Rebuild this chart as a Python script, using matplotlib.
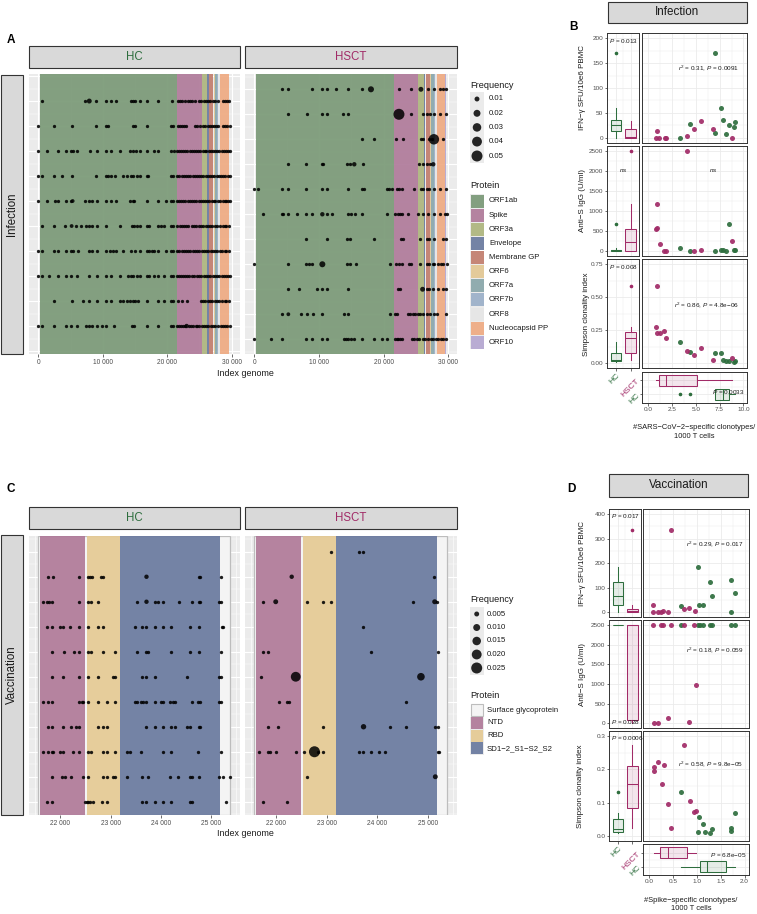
import numpy as np
import matplotlib
matplotlib.use("Agg")
import matplotlib.pyplot as plt
from matplotlib.patches import Rectangle
from matplotlib.colors import to_rgba

plt.rcParams['font.family'] = ['Liberation Sans', 'DejaVu Sans']
plt.rcParams['mathtext.fontset'] = 'custom'
plt.rcParams['mathtext.rm'] = 'Liberation Sans'
plt.rcParams['mathtext.it'] = 'Liberation Sans:italic'
plt.rcParams['mathtext.bf'] = 'Liberation Sans:bold'

# ======================= DATA =======================
GROUPS = ["HC", "HSCT"]
HC_COL = "#2E6E3E"
HS_COL = "#A12B67"

# ---- Panel A : genome proteins ----
PROT_A_NAMES = ["ORF1ab", "Spike", "ORF3a", "Envelope", "Membrane GP", "ORF6",
                "ORF7a", "ORF7b", "ORF8", "Nucleocapsid PP", "ORF10"]
PROT_A_START = [266, 21563, 25393, 26245, 26523, 27202, 27394, 27756, 27894, 28274, 29558]
PROT_A_END = [21555, 25384, 26220, 26472, 27191, 27387, 27759, 27887, 28259, 29533, 29674]
PROT_A_COLORS = ["#7B9A78", "#B07B9B", "#AEB67F", "#6B7BA0", "#C27E6E", "#E3C894",
                 "#8AA8AB", "#9CB0C9", "#E6E6E6", "#EFAB83", "#B6A7D2"]
FREQ_A_LEVELS = [0.01, 0.02, 0.03, 0.04, 0.05]
FREQ_A_LABELS = ["0.01", "0.02", "0.03", "0.04", "0.05"]

# epitope positions (kb) per donor row, HC infection
A_HC_ROWS_KB = [
    [0.52, 7.24, 8.95, 10.50, 11.28, 12.05, 14.38, 14.74, 15.0, 15.78, 16.81, 18.62, 20.69,
     21.7, 22.0, 22.3, 22.7, 23.2, 23.5, 23.9, 24.3, 24.9, 25.3, 25.7, 26.0, 26.4, 26.7, 27.1,
     27.5, 27.9, 28.7, 29.0, 29.3, 29.6],
    [0, 2.48, 5.17, 8.95, 10.50, 10.76, 14.64, 15.0, 16.81, 20.53, 20.84,
     21.7, 22.0, 22.3, 22.6, 22.9, 24.3, 24.7, 25.1, 25.5, 25.9, 26.3, 26.6, 26.9, 27.3, 27.6,
     27.9, 28.6, 28.9, 29.3, 29.7],
    [0, 1.40, 3.10, 4.24, 5.07, 5.33, 5.95, 8.02, 9.05, 10.50, 11.28, 12.67, 14.22, 14.64, 15.16,
     15.78, 16.81, 17.95, 18.62, 20.53, 21.05,
     21.6, 21.9, 22.2, 22.5, 22.8, 23.1, 23.5, 23.8, 24.1, 24.5, 24.8, 25.1, 25.5, 25.8, 26.1,
     26.5, 26.8, 27.1, 27.4, 27.8, 28.1, 28.5, 28.8, 29.1, 29.4, 29.7],
    [0, 0.52, 2.48, 3.72, 5.17, 8.95, 10.50, 10.86, 11.28, 11.90, 13.09, 13.71, 14.33, 14.74,
     15.26, 15.78, 16.81, 17.07, 20.53, 20.95,
     21.6, 21.9, 22.3, 22.6, 22.9, 23.3, 23.6, 24.0, 24.3, 24.6, 25.0, 25.3, 25.6, 26.0, 26.3,
     26.7, 27.0, 27.3, 27.7, 28.0, 28.4, 28.7, 29.0, 29.4, 29.7],
    [0, 1.40, 2.59, 3.10, 4.29, 5.07, 7.24, 7.91, 8.28, 9.05, 10.50, 11.28, 12.05, 14.22, 14.64,
     14.90, 16.81, 18.62, 19.81, 20.53, 20.84,
     21.6, 21.9, 22.2, 22.5, 22.8, 23.2, 23.5, 23.8, 24.2, 24.5, 24.9, 25.2, 25.5, 25.9, 26.2,
     26.5, 26.9, 27.2, 27.5, 27.9, 28.2, 28.6, 28.9, 29.2, 29.5, 29.8],
    [0.52, 2.48, 4.14, 5.84, 6.62, 7.40, 7.91, 8.28, 9.05, 10.50, 12.67, 14.48, 14.84, 15.26,
     15.78, 16.81, 17.17, 18.62, 19.03, 19.55, 20.53, 20.95,
     21.6, 22.0, 22.3, 22.6, 23.0, 23.3, 23.8, 24.1, 24.5, 24.9, 25.3, 25.6, 26.0, 26.3, 26.6,
     27.0, 27.4, 27.8, 28.2, 28.6, 28.9, 29.2, 29.6],
    [0, 0.52, 2.48, 3.10, 4.29, 5.07, 5.33, 6.10, 7.91, 8.28, 9.05, 10.50, 11.12, 11.53, 12.05,
     13.19, 14.38, 15.0, 15.78, 16.81, 17.17, 17.59, 17.95, 18.62, 19.81, 20.53, 20.95,
     21.6, 21.9, 22.3, 22.6, 22.9, 23.3, 23.6, 24.0, 24.3, 24.7, 25.0, 25.4, 25.7, 26.1, 26.4,
     26.8, 27.1, 27.5, 27.8, 28.2, 28.5, 28.9, 29.2, 29.6],
    [0, 0.52, 1.71, 3.10, 4.29, 5.07, 5.95, 7.91, 9.05, 10.50, 11.28, 12.67, 13.86, 14.33, 14.74,
     15.26, 15.78, 16.81, 17.17, 17.95, 18.62, 19.55, 20.53, 20.95,
     21.6, 21.9, 22.2, 22.5, 22.8, 23.1, 23.4, 23.8, 24.2, 24.6, 25.0, 25.3, 25.7, 26.0, 26.4,
     26.7, 27.1, 27.4, 27.8, 28.1, 28.5, 28.8, 29.1, 29.5, 29.8],
    [2.48, 5.17, 6.88, 7.91, 9.05, 10.50, 11.28, 12.67, 13.19, 13.71, 14.22, 14.64, 15.0, 15.41,
     16.81, 18.62, 19.55, 20.53, 20.95, 21.72, 22.24, 23.02,
     25.3, 25.6, 25.9, 26.3, 26.7, 27.0, 27.4, 27.8, 28.1, 28.5, 28.9, 29.2, 29.6],
    [0, 0.52, 2.48, 4.29, 5.07, 5.95, 7.40, 7.91, 8.28, 9.05, 9.83, 10.50, 11.79, 14.48, 14.90,
     16.81, 18.62, 20.53, 20.95,
     21.6, 21.9, 22.2, 22.5, 22.8, 23.4, 23.7, 24.0, 24.4, 24.7, 25.0, 25.4, 25.7, 26.1, 26.4,
     26.8, 27.1, 27.5, 27.9, 28.3, 28.6, 29.0, 29.3, 29.7],
]
A_HC_BIG_ROW = [1, 5, 6, 10]
A_HC_BIG_KB = [7.91, 5.33, 5.17, 23.02]
A_HC_BIG_F = [0.010, 0.006, 0.006, 0.008]

A_HS_ROWS_KB = [
    [4.23, 5.26, 8.97, 10.52, 11.19, 12.63, 14.54, 16.70, 22.42, 24.23, 26.80, 27.84, 28.71, 29.23, 29.64],
    [5.26, 8.20, 10.52, 11.29, 13.76, 14.54, 24.23, 26.03, 26.65, 27.16, 27.84, 28.71, 29.64],
    [16.70, 18.56, 21.91, 22.94, 25.77, 26.13, 27.06, 27.42, 29.23],
    [5.26, 7.99, 10.41, 10.67, 14.38, 14.79, 16.86, 25.52, 26.03, 26.65, 27.16],
    [0, 0.62, 4.23, 5.26, 7.99, 10.52, 11.29, 14.54, 16.70, 16.96, 20.46, 20.88, 21.24, 22.01, 22.42,
     22.89, 24.74, 25.77, 26.13, 26.65, 27.06, 27.84, 28.71, 29.64],
    [1.39, 4.23, 4.48, 5.26, 6.55, 7.99, 8.97, 11.29, 11.96, 14.54, 14.90, 15.57, 16.70, 20.46, 21.75,
     22.16, 22.53, 22.89, 23.71, 25.26, 26.03, 26.91, 27.84, 28.71, 29.48, 29.74],
    [7.99, 11.19, 14.38, 14.79, 18.56, 22.68, 22.94, 25.62, 26.65, 27.06, 27.84, 29.23, 29.64],
    [0, 5.26, 7.99, 8.45, 8.97, 14.38, 14.79, 15.67, 20.98, 21.91, 22.42, 22.89, 23.92, 24.23, 25.62,
     26.65, 27.06, 27.68, 27.84, 28.45, 28.87, 29.23, 29.74],
    [5.26, 6.91, 9.74, 10.52, 11.19, 14.54, 22.27, 22.53, 26.65, 27.06, 27.68, 28.35, 29.23, 29.64],
    [4.23, 7.22, 8.09, 9.02, 10.52, 13.87, 14.54, 20.98, 21.75, 22.01, 23.71, 24.07, 24.48, 24.85,
     25.26, 25.62, 26.03, 26.65, 27.16, 27.84, 28.20, 29.64],
    [0, 2.53, 4.23, 7.99, 8.97, 10.52, 11.29, 13.87, 14.18, 14.54, 14.90, 15.46, 16.70, 18.56, 19.69,
     20.57, 21.75, 22.01, 22.27, 22.53, 22.89, 24.33, 24.74, 25.10, 25.52, 26.03, 26.39, 26.91, 27.32,
     27.68, 28.09, 28.45, 28.87, 29.23, 29.64],
]
A_HS_BIG_ROW = [1, 1, 2, 3, 4, 4, 6, 8, 9, 10]
A_HS_BIG_KB = [18.04, 25.77, 22.37, 27.78, 15.46, 27.68, 10.52, 10.52, 26.03, 5.26]
A_HS_BIG_F = [0.015, 0.010, 0.050, 0.045, 0.008, 0.008, 0.008, 0.015, 0.010, 0.006]

# ---- Panel C : spike domains ----
PROT_C_NAMES = ["Surface glycoprotein", "NTD", "RBD", "SD1\u22122_S1\u2212S2_S2"]
PROT_C_START = [21563, 21600, 22523, 23186]
PROT_C_END = [25384, 22490, 23190, 25184]
PROT_C_COLORS = ["#F4F4F4", "#B07A99", "#E5CA94", "#6A7A9F"]
FREQ_C_LEVELS = [0.005, 0.010, 0.015, 0.020, 0.025]
FREQ_C_LABELS = ["0.005", "0.010", "0.015", "0.020", "0.025"]

C_HC_ROWS = [
    [21762, 21861, 22377, 22543, 22589, 22622, 22808, 22854, 24754, 24774, 25204],
    [21662, 21729, 21775, 21841, 22377, 22556, 22602, 22755, 23536, 23880, 23946, 24046, 24363,
     24628, 24754, 24774, 25151, 25204],
    [21729, 21841, 21993, 22060, 22192, 22377, 22556, 22755, 22854, 23483, 23635, 23715, 23880,
     24046, 24198, 24575, 24754, 25224, 25237],
    [21841, 22079, 22278, 22377, 22556, 22602, 22854, 23086, 23536, 23701, 23748, 24198, 24575,
     24754, 25204],
    [21841, 22060, 22377, 22556, 22755, 23053, 23086, 23635, 23715, 23880, 24522, 25151, 25204],
    [21662, 21762, 21841, 22377, 22424, 22457, 22556, 22755, 22920, 23086, 23483, 23536, 23615,
     23648, 23715, 23880, 23999, 24046, 24178, 24244, 24277, 24628, 24741, 24774, 25151, 25204],
    [21748, 21841, 22060, 22212, 22311, 22377, 22755, 22854, 22920, 23715, 23880, 24046, 24198,
     24277, 24522, 24575, 24754, 24774],
    [21649, 21762, 21828, 21861, 21993, 22060, 22258, 22377, 22556, 22602, 22854, 22920, 23086,
     23331, 23384, 23602, 24046, 24198, 24741, 25204],
    [21841, 22040, 22093, 22212, 22443, 22556, 22854, 22920, 23053, 23086, 23331, 23635, 23748,
     24178, 24343, 24575, 24628, 24754, 25151, 25237, 25370],
    [21729, 21828, 22490, 22523, 22556, 22589, 22655, 22821, 22920, 23635, 23715, 23880, 24046,
     24198, 24575, 24628, 25303],
]
C_HC_BIG_ROW = [2, 3]
C_HC_BIG_X = [23715, 23715]
C_HC_BIG_F = [0.004, 0.004]

C_HS_ROWS = [
    [23086, 23642, 23708],
    [25118],
    [21742, 22602, 22920, 23086, 24708, 25184],
    [23708],
    [21742, 21841, 23880, 25197],
    [21689],
    [22060, 22205, 22251, 24568],
    [21841, 22026, 22920, 24257, 24568, 25151, 25197],
    [21656, 21841, 21874, 21987, 22384, 22556, 22834, 22920, 23642, 23708, 23880, 24039, 24158,
     25197, 25230],
    [22602],
    [21742, 22205],
]
C_HS_BIG_ROW = [2, 3, 3, 6, 6, 8, 9, 10]
C_HS_BIG_X = [22304, 21987, 25138, 22384, 24866, 23728, 22755, 25151]
C_HS_BIG_F = [0.004, 0.005, 0.005, 0.020, 0.012, 0.006, 0.025, 0.005]

# ---- Panel B : infection correlations ----
B_IFN_HC_X = [3.30, 4.39, 7.02, 7.65, 7.89, 7.02, 8.18, 8.53, 9.05, 9.16]
B_IFN_HC_Y = [0, 28, 170, 60, 36, 10, 7, 25, 21, 32]
B_IFN_HS_X = [0.88, 1.16, 1.75, 1.89, 0.95, 4.04, 4.77, 5.58, 6.77, 8.81]
B_IFN_HS_Y = [0, 0, 0, 0, 13, 3, 18, 34, 18, 0]
B_IGG_HC_X = [3.30, 4.39, 7.02, 7.65, 7.89, 8.18, 8.53, 9.05, 9.16]
B_IGG_HC_Y = [67, 0, 0, 33, 17, 0, 667, 17, 17]
B_IGG_HS_X = [4.04, 0.95, 0.88, 0.98, 1.23, 1.68, 1.86, 4.77, 5.58, 8.81]
B_IGG_HS_Y = [2500, 1183, 542, 567, 183, 8, 0, 0, 17, 250]
B_SIM_HC_X = [3.30, 4.39, 7.02, 7.65, 7.89, 8.18, 8.53, 9.05, 9.16]
B_SIM_HC_Y = [0.164, 0.088, 0.081, 0.081, 0.025, 0.018, 0.018, 0.013, 0.018]
B_SIM_HS_X = [0.95, 0.84, 0.98, 1.23, 1.68, 1.86, 4.04, 4.77, 5.58, 6.77, 8.81]
B_SIM_HS_Y = [0.583, 0.277, 0.227, 0.227, 0.245, 0.189, 0.093, 0.063, 0.114, 0.025, 0.038]

# ---- Panel D : vaccination correlations ----
D_IFN_HC_X = [0.66, 1.02, 1.04, 1.14, 1.27, 1.32, 1.71, 1.72, 1.80]
D_IFN_HC_Y = [27, 185, 28, 28, 123, 67, 133, 2, 80]
D_IFN_HS_X = [0.09, 0.09, 0.18, 0.25, 0.30, 0.39, 0.45, 0.73, 0.84, 0.97]
D_IFN_HS_Y = [32, 0, 0, 0, 5, 0, 333, 12, 16, 5]
D_IGG_HC_X = [0.66, 1.02, 1.06, 1.14, 1.27, 1.32, 1.71, 1.80]
D_IGG_HC_Y = [2500, 2500, 2500, 2500, 2500, 2500, 2500, 2500]
D_IGG_HS_X = [0.09, 0.25, 0.30, 0.45, 0.73, 0.94, 0.99, 0.10, 0.18, 0.40, 0.84]
D_IGG_HS_Y = [2500, 2500, 2500, 2500, 2500, 2500, 967, 0, 0, 138, 44]
D_SIM_HC_X = [0.66, 1.04, 1.14, 1.02, 1.17, 1.27, 1.32, 1.71, 1.72, 1.80]
D_SIM_HC_Y = [0.131, 0.058, 0.036, 0.013, 0.013, 0.008, 0.020, 0.025, 0.015, 0.070]
D_SIM_HS_X = [0.10, 0.10, 0.19, 0.31, 0.27, 0.40, 0.45, 0.73, 0.85, 0.94, 0.99]
D_SIM_HS_Y = [0.195, 0.207, 0.223, 0.213, 0.155, 0.095, 0.025, 0.272, 0.105, 0.073, 0.076]

# statistics text
B_BOX_TXT = ["$P$ = 0.013", "$ns$", "$P$ = 0.008"]
B_SC_TXT = ["$r^2$ = 0.31, $P$ = 0.0091", "$ns$", "$r^2$ = 0.86, $P$ = 4.8e\u221206"]
B_BOTTOM_TXT = "$P$ = 0.0033"
D_BOX_TXT = ["$P$ = 0.017", "", "$P$ = 0.0006"]
D_BOX_TXT_LOW = ["", "$P$ = 0.028", ""]
D_SC_TXT = ["$r^2$ = 0.29, $P$ = 0.017", "$r^2$ = 0.18, $P$ = 0.059", "$r^2$ = 0.58, $P$ = 9.8e\u221205"]
D_BOTTOM_TXT = "$P$ = 6.8e\u221205"
YLABELS = ["IFN\u2212\u03b3 SFU/10e6 PBMC", "Anti\u2212S IgG (U/ml)", "Simpson clonality index"]

# ======================= FIGURE =======================
W, H = 757, 914
fig = plt.figure(figsize=(W / 100, H / 100), dpi=100)
GRID_BG = "#EBEBEB"
DARK = "#333333"
TXT = "#4D4D4D"


def ax_px(x0, y0, x1, y1):
    return fig.add_axes([x0 / W, 1 - y1 / H, (x1 - x0) / W, (y1 - y0) / H])


def dot_s(f, fmax, dmax_px):
    d = dmax_px * np.sqrt(np.asarray(f, dtype=float) / fmax)
    return (d * 0.72) ** 2


def genome_panel(box, rows, row0, big_row, big_x, big_f, scale, starts, ends, cols,
                 xlim, ylim, xmajor, xminor, xlabels, fdef, fmax, first_edge=False):
    ax = ax_px(*box)
    ax.set_facecolor(GRID_BG)
    ax.set_xlim(*xlim)
    ax.set_ylim(*ylim)
    nrow = int(round(abs(ylim[0] - ylim[1]))) + 2
    for v in xmajor:
        ax.axvline(v, color="white", lw=0.8, zorder=0.5)
    for v in xminor:
        ax.axvline(v, color="white", lw=0.4, zorder=0.5)
    for k in range(0, nrow):
        ax.axhline(k, color="white", lw=0.8, zorder=0.5)
        ax.axhline(k + 0.5, color="white", lw=0.3, zorder=0.5)
    for i, (s, e, c) in enumerate(zip(starts, ends, cols)):
        if first_edge and i == 0:
            ax.axvspan(s, e, facecolor=c, edgecolor="#BDBDBD", lw=0.9, zorder=1)
        else:
            ax.axvspan(s, e, facecolor=c, alpha=0.93, lw=0, zorder=1.1)
    for i, xs in enumerate(rows):
        xs = np.asarray(xs, dtype=float) * scale
        ax.scatter(xs, np.full(len(xs), row0 + i), s=dot_s(fdef, fmax, 11), c="black",
                   alpha=0.88, lw=0, zorder=3)
    ax.scatter(np.asarray(big_x, dtype=float) * scale, big_row, s=dot_s(big_f, fmax, 11),
               c="black", alpha=0.85, lw=0, zorder=3.5)
    ax.set_xticks(xmajor)
    ax.set_xticklabels(xlabels, fontsize=4.8, color=TXT)
    ax.set_yticks([])
    ax.tick_params(axis="x", length=2, width=0.5, color=DARK, pad=1.5)
    for sp in ax.spines.values():
        sp.set_visible(False)
    return ax


ov = fig.add_axes([0, 0, 1, 1], zorder=-1)
ov.set_xlim(0, W)
ov.set_ylim(H, 0)
ov.axis("off")


def strip(x0, y0, x1, y1, text, color="#1A1A1A", rot=0, fs=8.3):
    ov.add_patch(Rectangle((x0, y0), x1 - x0, y1 - y0, facecolor="#D9D9D9", edgecolor=DARK, lw=0.8))
    ov.text((x0 + x1) / 2, (y0 + y1) / 2, text, ha="center", va="center", rotation=rot,
            fontsize=fs, color=color)


# ---------------- Panel A ----------------
A_XLIM = (-1445, 31305)
A_MAJ = [0, 10000, 20000, 30000]
A_MIN = [5000, 15000, 25000]
A_LAB = ["0", "10 000", "20 000", "30 000"]
genome_panel((29, 74.3, 240, 354), A_HC_ROWS_KB, 1, A_HC_BIG_ROW, A_HC_BIG_KB, A_HC_BIG_F, 1000,
             PROT_A_START, PROT_A_END, PROT_A_COLORS, A_XLIM, (11.12, -0.07), A_MAJ, A_MIN, A_LAB,
             0.0045, 0.05)
genome_panel((245, 74.3, 456.7, 354), A_HS_ROWS_KB, 1, A_HS_BIG_ROW, A_HS_BIG_KB, A_HS_BIG_F, 1000,
             PROT_A_START, PROT_A_END, PROT_A_COLORS, A_XLIM, (11.59, 0.4), A_MAJ, A_MIN, A_LAB,
             0.0045, 0.05)
strip(29, 45.7, 240, 67.7, "HC", HC_COL)
strip(245, 45.7, 456.7, 67.7, "HSCT", HS_COL)
strip(0.7, 75, 23.3, 354, "Infection", "#1A1A1A", rot=90)
ov.text(245, 374, "Index genome", ha="center", va="center", fontsize=6.4, color="#1A1A1A")
ov.text(11, 40, "A", ha="center", va="center", fontsize=8.5, fontweight="bold")

# legend A
ov.text(470, 86, "Frequency", ha="left", va="center", fontsize=6.6, color="#1A1A1A")
ov.add_patch(Rectangle((470, 92), 14, 71, facecolor=GRID_BG, lw=0))
fy = [99, 113.3, 127.4, 141.6, 156]
ov.scatter([477] * len(FREQ_A_LEVELS), fy, s=dot_s(FREQ_A_LEVELS, 0.05, 11), c="black", lw=0, alpha=0.85)
for yy, lab in zip(fy, FREQ_A_LABELS):
    ov.text(489, yy, lab, ha="left", va="center", fontsize=5.6, color="#1A1A1A")
ov.text(470, 186, "Protein", ha="left", va="center", fontsize=6.6, color="#1A1A1A")
for i, (nm, c) in enumerate(zip(PROT_A_NAMES, PROT_A_COLORS)):
    yy = 201 + i * 14.13
    ov.add_patch(Rectangle((470, yy - 7), 14, 14, facecolor=GRID_BG, lw=0))
    ov.add_patch(Rectangle((470.5, yy - 6.5), 13, 13, facecolor=c, alpha=0.93, lw=0))
    ov.text(489, yy, nm, ha="left", va="center", fontsize=5.6, color="#1A1A1A")

# ---------------- Panel C ----------------
C_XLIM = (21378, 25575)
C_MAJ = [22000, 23000, 24000, 25000]
C_MIN = [21500, 22500, 23500, 24500, 25500]
C_LAB = ["22 000", "23 000", "24 000", "25 000"]
genome_panel((29, 536, 240, 815), C_HC_ROWS, 2, C_HC_BIG_ROW, C_HC_BIG_X, C_HC_BIG_F, 1,
             PROT_C_START, PROT_C_END, PROT_C_COLORS, C_XLIM, (11.53, 0.37), C_MAJ, C_MIN, C_LAB,
             0.0023, 0.025, first_edge=True)
genome_panel((245, 536, 456.7, 815), C_HS_ROWS, 1, C_HS_BIG_ROW, C_HS_BIG_X, C_HS_BIG_F, 1,
             PROT_C_START, PROT_C_END, PROT_C_COLORS, C_XLIM, (11.53, 0.37), C_MAJ, C_MIN, C_LAB,
             0.0023, 0.025, first_edge=True)
strip(29, 506.7, 240, 529.3, "HC", HC_COL)
strip(245, 506.7, 456.7, 529.3, "HSCT", HS_COL)
strip(0.7, 535, 23.3, 815, "Vaccination", "#1A1A1A", rot=90)
ov.text(245, 834, "Index genome", ha="center", va="center", fontsize=6.4, color="#1A1A1A")
ov.text(11, 489, "C", ha="center", va="center", fontsize=8.5, fontweight="bold")

ov.text(470, 600, "Frequency", ha="left", va="center", fontsize=6.6, color="#1A1A1A")
ov.add_patch(Rectangle((470, 607), 13.5, 68, facecolor=GRID_BG, lw=0))
fy = [614, 627.5, 641, 654.5, 668]
ov.scatter([476.7] * len(FREQ_C_LEVELS), fy, s=dot_s(FREQ_C_LEVELS, 0.025, 11), c="black", lw=0, alpha=0.85)
for yy, lab in zip(fy, FREQ_C_LABELS):
    ov.text(487, yy, lab, ha="left", va="center", fontsize=5.6, color="#1A1A1A")
ov.text(470, 695, "Protein", ha="left", va="center", fontsize=6.6, color="#1A1A1A")
for i, (nm, c) in enumerate(zip(PROT_C_NAMES, PROT_C_COLORS)):
    yy = 710 + i * 12.8
    if i == 0:
        ov.add_patch(Rectangle((470.5, yy - 5.8), 12.5, 11.6, facecolor=c, edgecolor="#BDBDBD", lw=0.8))
    else:
        ov.add_patch(Rectangle((470, yy - 6.2), 13.5, 12.4, facecolor=GRID_BG, lw=0))
        ov.add_patch(Rectangle((470.5, yy - 6), 12.5, 12, facecolor=c, alpha=0.93, lw=0))
    ov.text(487, yy, nm, ha="left", va="center", fontsize=5.6, color="#1A1A1A")


# ---------------- Panels B and D ----------------
def frame(a):
    a.set_facecolor("white")
    for sp in a.spines.values():
        sp.set_color(DARK)
        sp.set_linewidth(0.7)


def vgrid(a, major, minor):
    for v in major:
        a.axvline(v, color="#EBEBEB", lw=0.6, zorder=0)
    for v in minor:
        a.axvline(v, color="#EBEBEB", lw=0.35, zorder=0)


def hgrid(a, major, minor):
    for v in major:
        a.axhline(v, color="#EBEBEB", lw=0.6, zorder=0)
    for v in minor:
        a.axhline(v, color="#EBEBEB", lw=0.35, zorder=0)


def style_box(bp, cols, lw=0.75):
    for i, c in enumerate(cols):
        bp["boxes"][i].set(facecolor=to_rgba(c, 0.12), edgecolor=c, linewidth=lw)
        bp["medians"][i].set(color=c, linewidth=lw)
        for w in bp["whiskers"][2 * i:2 * i + 2]:
            w.set(color=c, linewidth=lw)
        bp["fliers"][i].set(marker="o", markerfacecolor=c, markeredgecolor=c, markersize=1.6)


def do_boxplot(a, data, horizontal=False):
    kw = dict(positions=[1, 2], widths=0.75, patch_artist=True, showcaps=False, whis=1.5,
              manage_ticks=False)
    if horizontal:
        try:
            bp = a.boxplot(data, orientation="horizontal", **kw)
        except TypeError:
            bp = a.boxplot(data, vert=False, **kw)
    else:
        bp = a.boxplot(data, **kw)
    style_box(bp, [HC_COL, HS_COL])


def corr_block(rows_y, box_x, sc_x, bottom_y, rows, xlim, xticks, xticklabels, xminor,
               xlabel, xlabel_xy, bottom_txt, bottom_txt_y, ylabel_x, strip_box, strip_txt,
               letter_xy, letter):
    strip(*strip_box, strip_txt, "#1A1A1A", fs=8.4)
    ov.text(*letter_xy, letter, ha="center", va="center", fontsize=8.5, fontweight="bold")
    for k, ((y0, y1), r) in enumerate(zip(rows_y, rows)):
        axb = ax_px(box_x[0], y0, box_x[1], y1)
        axs = ax_px(sc_x[0], y0, sc_x[1], y1)
        ylim, yt, ytl, ymin = r["ylim"], r["yticks"], r["ylabels"], r["yminor"]
        for a in (axb, axs):
            frame(a)
            a.set_ylim(*ylim)
            hgrid(a, yt, ymin)
        axb.set_xlim(0.4, 2.6)
        vgrid(axb, [1, 2], [1.5])
        do_boxplot(axb, [r["hc_y"], r["hs_y"]])
        axb.set_yticks(yt)
        axb.set_yticklabels(ytl, fontsize=4.6, color=TXT)
        axb.tick_params(axis="y", length=1.8, width=0.5, color=DARK, pad=1)
        if k == len(rows) - 1:
            axb.set_xticks([1, 2])
            # the HSCT label of this axis coincides with the one of the panel below
            labs = axb.set_xticklabels([GROUPS[0], ""], rotation=45, ha="right",
                                       rotation_mode="anchor", fontsize=6)
            labs[0].set_color(HC_COL)
            axb.tick_params(axis="x", length=1.8, width=0.5, color=DARK, pad=1)
        else:
            axb.set_xticks([])
        axs.set_xlim(*xlim)
        vgrid(axs, xticks, xminor)
        axs.scatter(r["hc_x"], r["hc_y"], s=13, c=HC_COL, lw=0, alpha=0.92, zorder=3)
        axs.scatter(r["hs_x"], r["hs_y"], s=13, c=HS_COL, lw=0, alpha=0.92, zorder=3)
        axs.set_xticks([])
        axs.set_yticks([])
        if r["box_txt"]:
            axb.text(r["box_txt_pos"][0], r["box_txt_pos"][1], r["box_txt"], transform=axb.transAxes,
                     ha=r["box_txt_ha"], va=r["box_txt_va"], fontsize=4.6, color="#1A1A1A")
        if r["sc_txt"]:
            axs.text(r["sc_txt_pos"][0], r["sc_txt_pos"][1], r["sc_txt"], transform=axs.transAxes,
                     ha="center", va="center", fontsize=4.6, color="#1A1A1A")
        ov.text(ylabel_x[k], (y0 + y1) / 2, YLABELS[k], rotation=90, ha="center", va="center",
                fontsize=5.8, color="#1A1A1A")
    # bottom horizontal boxplots
    axh = ax_px(sc_x[0], bottom_y[0], sc_x[1], bottom_y[1])
    frame(axh)
    axh.set_xlim(*xlim)
    axh.set_ylim(0.4, 2.6)
    vgrid(axh, xticks, xminor)
    hgrid(axh, [1, 2], [1.5])
    do_boxplot(axh, [rows[-1]["hc_x"], rows[-1]["hs_x"]], horizontal=True)
    axh.set_xticks(xticks)
    axh.set_xticklabels(xticklabels, fontsize=4.6, color=TXT)
    axh.set_yticks([1, 2])
    labs = axh.set_yticklabels(GROUPS, rotation=45, ha="right", va="center",
                               rotation_mode="anchor", fontsize=6)
    for lb, c in zip(labs, [HC_COL, HS_COL]):
        lb.set_color(c)
    axh.tick_params(length=1.8, width=0.5, color=DARK, pad=1)
    axh.text(0.975, bottom_txt_y, bottom_txt, transform=axh.transAxes, ha="right", va="center",
             fontsize=4.6, color="#1A1A1A")
    ov.text(xlabel_xy[0], xlabel_xy[1], xlabel, ha="center", va="center", fontsize=5.4,
            color="#1A1A1A", linespacing=1.25)


def mk_row(ylim, yticks, ylabels, yminor, hcx, hcy, hsx, hsy, box_txt, box_pos, box_ha, box_va,
           sc_txt, sc_pos):
    return dict(ylim=ylim, yticks=yticks, ylabels=ylabels, yminor=yminor, hc_x=hcx, hc_y=hcy,
                hs_x=hsx, hs_y=hsy, box_txt=box_txt, box_txt_pos=box_pos, box_txt_ha=box_ha,
                box_txt_va=box_va, sc_txt=sc_txt, sc_txt_pos=sc_pos)


IGG_T = [0, 500, 1000, 1500, 2000, 2500]
IGG_L = ["0", "500", "1000", "1500", "2000", "2500"]
IGG_M = [250, 750, 1250, 1750, 2250]

B_rows = [
    mk_row((-10, 210), [0, 50, 100, 150, 200], ["0", "50", "100", "150", "200"], [25, 75, 125, 175],
           B_IFN_HC_X, B_IFN_HC_Y, B_IFN_HS_X, B_IFN_HS_Y, B_BOX_TXT[0], (0.06, 0.97), "left", "top",
           B_SC_TXT[0], (0.63, 0.686)),
    mk_row((-125, 2625), IGG_T, IGG_L, IGG_M,
           B_IGG_HC_X, B_IGG_HC_Y, B_IGG_HS_X, B_IGG_HS_Y, B_BOX_TXT[1], (0.5, 0.775), "center", "center",
           B_SC_TXT[1], (0.68, 0.775)),
    mk_row((-0.0375, 0.7875), [0, 0.25, 0.5, 0.75], ["0.00", "0.25", "0.50", "0.75"], [0.125, 0.375, 0.625],
           B_SIM_HC_X, B_SIM_HC_Y, B_SIM_HS_X, B_SIM_HS_Y, B_BOX_TXT[2], (0.06, 0.97), "left", "top",
           B_SC_TXT[2], (0.61, 0.58)),
]
corr_block([(33.3, 142.7), (146, 256), (259.3, 368.3)], (607.3, 639.3), (642.3, 747.3), (371.7, 403),
           B_rows, (-0.6, 10.4), [0, 2.5, 5, 7.5, 10], ["0.0", "2.5", "5.0", "7.5", "10.0"],
           [1.25, 3.75, 6.25, 8.75],
           "#SARS\u2212CoV\u22122\u2212specific clonotypes/\n1000 T cells", (694, 432),
           B_BOTTOM_TXT, 0.36, [583, 583, 587], (608, 1.5, 747, 22.7), "Infection", (574, 27), "B")

D_rows = [
    mk_row((-20, 420), [0, 100, 200, 300, 400], ["0", "100", "200", "300", "400"], [50, 150, 250, 350],
           D_IFN_HC_X, D_IFN_HC_Y, D_IFN_HS_X, D_IFN_HS_Y, D_BOX_TXT[0], (0.06, 0.97), "left", "top",
           D_SC_TXT[0], (0.67, 0.68)),
    mk_row((-125, 2625), IGG_T, IGG_L, IGG_M,
           D_IGG_HC_X, D_IGG_HC_Y, D_IGG_HS_X, D_IGG_HS_Y, D_BOX_TXT_LOW[1], (0.06, 0.02), "left", "bottom",
           D_SC_TXT[1], (0.67, 0.72)),
    mk_row((-0.015, 0.315), [0, 0.1, 0.2, 0.3], ["0.0", "0.1", "0.2", "0.3"], [0.05, 0.15, 0.25],
           D_SIM_HC_X, D_SIM_HC_Y, D_SIM_HS_X, D_SIM_HS_Y, D_BOX_TXT[2], (0.06, 0.97), "left", "top",
           D_SC_TXT[2], (0.63, 0.70)),
]
corr_block([(509, 617.3), (620, 728.3), (731, 841)], (609.3, 641), (643.3, 749.3), (844.3, 875),
           D_rows, (-0.12, 2.1), [0, 0.5, 1, 1.5, 2], ["0.0", "0.5", "1.0", "1.5", "2.0"],
           [0.25, 0.75, 1.25, 1.75],
           "#Spike\u2212specific clonotypes/\n1000 T cells", (691, 904.5),
           D_BOTTOM_TXT, 0.65, [583, 583, 580], (609.3, 474, 748.3, 496.7), "Vaccination", (571, 489), "D")

fig.savefig("out.png", dpi=100)
